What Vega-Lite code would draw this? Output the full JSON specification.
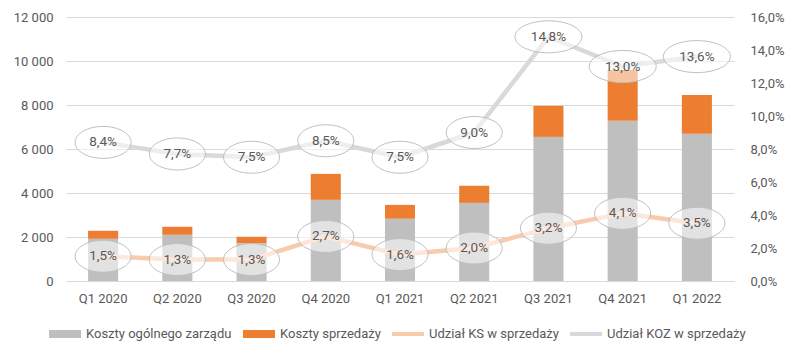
{
  "$schema": "https://vega.github.io/schema/vega-lite/v6.json",
  "width": 668,
  "height": 264,
  "autosize": {"type": "none"},
  "padding": {"left": 66, "top": 17, "right": 65, "bottom": 78},
  "background": "white",
  "config": {
    "locale": {"number": {"decimal": ",", "thousands": " ", "grouping": [3], "currency": ["", ""]}},
    "view": {"stroke": null},
    "font": "Roboto",
    "text": {"font": "Roboto"}
  },
  "datasets": {
    "costs": [
      {"q": "Q1 2020", "series": "Koszty ogólnego zarządu", "value": 1920},
      {"q": "Q1 2020", "series": "Koszty sprzedaży", "value": 363},
      {"q": "Q2 2020", "series": "Koszty ogólnego zarządu", "value": 2100},
      {"q": "Q2 2020", "series": "Koszty sprzedaży", "value": 365},
      {"q": "Q3 2020", "series": "Koszty ogólnego zarządu", "value": 1720},
      {"q": "Q3 2020", "series": "Koszty sprzedaży", "value": 290},
      {"q": "Q4 2020", "series": "Koszty ogólnego zarządu", "value": 3690},
      {"q": "Q4 2020", "series": "Koszty sprzedaży", "value": 1180},
      {"q": "Q1 2021", "series": "Koszty ogólnego zarządu", "value": 2830},
      {"q": "Q1 2021", "series": "Koszty sprzedaży", "value": 630},
      {"q": "Q2 2021", "series": "Koszty ogólnego zarządu", "value": 3550},
      {"q": "Q2 2021", "series": "Koszty sprzedaży", "value": 780},
      {"q": "Q3 2021", "series": "Koszty ogólnego zarządu", "value": 6550},
      {"q": "Q3 2021", "series": "Koszty sprzedaży", "value": 1410},
      {"q": "Q4 2021", "series": "Koszty ogólnego zarządu", "value": 7280},
      {"q": "Q4 2021", "series": "Koszty sprzedaży", "value": 2310},
      {"q": "Q1 2022", "series": "Koszty ogólnego zarządu", "value": 6690},
      {"q": "Q1 2022", "series": "Koszty sprzedaży", "value": 1770}
    ],
    "shares": [
      {"q": "Q1 2020", "series": "Udział KS w sprzedaży", "pct": 0.015},
      {"q": "Q2 2020", "series": "Udział KS w sprzedaży", "pct": 0.013},
      {"q": "Q3 2020", "series": "Udział KS w sprzedaży", "pct": 0.013},
      {"q": "Q4 2020", "series": "Udział KS w sprzedaży", "pct": 0.027},
      {"q": "Q1 2021", "series": "Udział KS w sprzedaży", "pct": 0.016},
      {"q": "Q2 2021", "series": "Udział KS w sprzedaży", "pct": 0.020},
      {"q": "Q3 2021", "series": "Udział KS w sprzedaży", "pct": 0.032},
      {"q": "Q4 2021", "series": "Udział KS w sprzedaży", "pct": 0.041},
      {"q": "Q1 2022", "series": "Udział KS w sprzedaży", "pct": 0.035},
      {"q": "Q1 2020", "series": "Udział KOZ w sprzedaży", "pct": 0.084},
      {"q": "Q2 2020", "series": "Udział KOZ w sprzedaży", "pct": 0.077},
      {"q": "Q3 2020", "series": "Udział KOZ w sprzedaży", "pct": 0.075},
      {"q": "Q4 2020", "series": "Udział KOZ w sprzedaży", "pct": 0.085},
      {"q": "Q1 2021", "series": "Udział KOZ w sprzedaży", "pct": 0.075},
      {"q": "Q2 2021", "series": "Udział KOZ w sprzedaży", "pct": 0.090},
      {"q": "Q3 2021", "series": "Udział KOZ w sprzedaży", "pct": 0.148},
      {"q": "Q4 2021", "series": "Udział KOZ w sprzedaży", "pct": 0.130},
      {"q": "Q1 2022", "series": "Udział KOZ w sprzedaży", "pct": 0.136}
    ]
  },
  "encoding": {
    "x": {
      "field": "q",
      "type": "nominal",
      "sort": ["Q1 2020", "Q2 2020", "Q3 2020", "Q4 2020", "Q1 2021", "Q2 2021", "Q3 2021", "Q4 2021", "Q1 2022"],
      "scale": {"paddingInner": 0, "paddingOuter": 0},
      "axis": {
        "title": null,
        "labelAngle": 0,
        "domain": true,
        "domainColor": "#d9d9d9",
        "ticks": false,
        "grid": false,
        "labelColor": "#595959",
        "labelFontSize": 13,
        "labelFont": "Roboto",
        "labelPadding": 11
      }
    }
  },
  "layer": [
    {
      "data": {"name": "costs"},
      "mark": {"type": "bar", "width": {"band": 0.405}},
      "encoding": {
        "y": {
          "field": "value",
          "type": "quantitative",
          "stack": "zero",
          "scale": {"domain": [0, 12000], "nice": false},
          "axis": {
            "title": null,
            "values": [0, 2000, 4000, 6000, 8000, 10000, 12000],
            "format": ",d",
            "grid": true,
            "gridColor": "#d9d9d9",
            "domain": false,
            "ticks": false,
            "labelPadding": 13,
            "labelFontSize": 13,
            "labelFont": "Roboto",
            "labelColor": "#595959"
          }
        },
        "color": {
          "field": "series",
          "type": "nominal",
          "scale": {
            "domain": ["Koszty ogólnego zarządu", "Koszty sprzedaży", "Udział KS w sprzedaży", "Udział KOZ w sprzedaży"],
            "range": ["#bfbfbf", "#ed7d31", "#f8cbad", "#d9d9d9"]
          },
          "legend": {
            "title": null,
            "orient": "none",
            "direction": "horizontal",
            "columns": 4,
            "legendX": -17,
            "legendY": 301,
            "symbolSize": 1024,
            "labelOffset": 5,
            "columnPadding": 11,
            "labelFontSize": 13,
            "labelFont": "Roboto",
            "labelColor": "#595959",
            "encode": {
              "symbols": {
                "update": {
                  "shape": {"signal": "datum.index >= 2 ? 'M-1,-0.125H1V0.125H-1Z' : 'M-1,-0.25H1V0.25H-1Z'"},
                  "fill": {"signal": "scale('color', datum.value)"},
                  "stroke": {"value": "transparent"},
                  "strokeWidth": {"value": 0},
                  "opacity": {"value": 1},
                  "fillOpacity": {"value": 1}
                }
              }
            }
          }
        },
        "order": {"field": "series", "sort": "ascending"}
      }
    },
    {
      "data": {"name": "shares"},
      "encoding": {
        "y": {
          "field": "pct",
          "type": "quantitative",
          "scale": {"domain": [0, 0.16], "nice": false},
          "axis": {
            "orient": "right",
            "title": null,
            "values": [0, 0.02, 0.04, 0.06, 0.08, 0.1, 0.12, 0.14, 0.16],
            "format": ".1%",
            "grid": false,
            "domain": false,
            "ticks": false,
            "labelPadding": 16,
            "labelFontSize": 13,
            "labelFont": "Roboto",
            "labelColor": "#595959"
          }
        }
      },
      "layer": [
        {
          "mark": {"type": "line", "strokeWidth": 4.5, "strokeJoin": "round"},
          "encoding": {
            "stroke": {
              "field": "series",
              "type": "nominal",
              "scale": {"domain": ["Udział KS w sprzedaży", "Udział KOZ w sprzedaży"], "range": ["#f8cbad", "#d9d9d9"]},
              "legend": null
            }
          }
        },
        {
          "mark": {"type": "point", "filled": false, "fill": "white", "fillOpacity": 0.55, "stroke": "#bfbfbf", "strokeWidth": 1, "strokeOpacity": 1, "opacity": 1},
          "encoding": {
            "shape": {
              "condition": {"test": "datum.pct >= 0.1", "value": "M-1,0C-1,-0.264,-0.552,-0.478,0,-0.478C0.552,-0.478,1,-0.264,1,0C1,0.264,0.552,0.478,0,0.478C-0.552,0.478,-1,0.264,-1,0Z"},
              "value": "M-1,0C-1,-0.315,-0.552,-0.571,0,-0.571C0.552,-0.571,1,-0.315,1,0C1,0.315,0.552,0.571,0,0.571C-0.552,0.571,-1,0.315,-1,0Z"
            },
            "size": {"condition": {"test": "datum.pct >= 0.1", "value": 4489}, "value": 3136}
          }
        },
        {
          "mark": {"type": "text", "fontSize": 13.5, "color": "#595959", "font": "Roboto"},
          "encoding": {
            "text": {"field": "pct", "type": "quantitative", "format": ".1%"}
          }
        }
      ]
    }
  ],
  "resolve": {"scale": {"y": "independent"}}
}
